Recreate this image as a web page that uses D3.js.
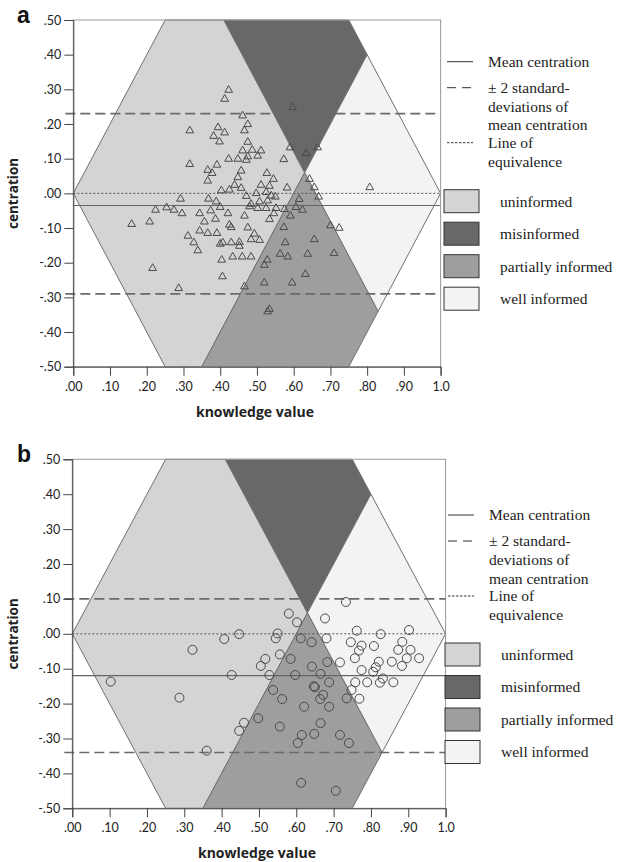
<!DOCTYPE html>
<html>
<head>
<meta charset="utf-8">
<script src="https://cdn.jsdelivr.net/npm/d3@7"></script>
<style>
  body { margin: 0; background: #fff; }
  svg { display: block; }
</style>
</head>
<body>
<div id="chart"></div>
<script>
// Panel a: one triangle per student, [knowledge value, centration]
const pointsA = [
  [0.423,0.298],[0.412,0.272],[0.597,0.248],[0.461,0.224],[0.317,0.181],[0.394,0.190],
  [0.475,0.199],[0.466,0.181],[0.412,0.175],[0.382,0.165],[0.398,0.149],[0.475,0.148],
  [0.461,0.123],[0.487,0.125],[0.511,0.123],[0.502,0.108],[0.590,0.132],[0.634,0.115],
  [0.665,0.132],[0.423,0.099],[0.448,0.099],[0.471,0.096],[0.475,0.106],[0.573,0.098],
  [0.317,0.084],[0.391,0.082],[0.366,0.067],[0.378,0.058],[0.457,0.065],[0.527,0.058],
  [0.448,0.046],[0.545,0.041],[0.366,0.036],[0.439,0.024],[0.511,0.024],[0.534,0.021],
  [0.643,0.041],[0.656,0.017],[0.403,0.008],[0.425,0.010],[0.457,0.015],[0.582,0.016],
  [0.668,-0.010],[0.292,-0.016],[0.368,-0.016],[0.389,-0.024],[0.471,-0.008],[0.498,0.000],
  [0.525,0.003],[0.539,-0.007],[0.550,-0.010],[0.484,-0.031],[0.507,-0.024],[0.529,-0.021],
  [0.615,-0.017],[0.224,-0.048],[0.254,-0.041],[0.274,-0.048],[0.296,-0.058],[0.344,-0.058],
  [0.374,-0.050],[0.400,-0.040],[0.421,-0.058],[0.480,-0.038],[0.502,-0.043],[0.525,-0.043],
  [0.552,-0.043],[0.575,-0.046],[0.606,-0.040],[0.624,-0.048],[0.159,-0.089],[0.208,-0.082],
  [0.357,-0.082],[0.387,-0.074],[0.466,-0.065],[0.534,-0.075],[0.546,-0.058],[0.591,-0.065],
  [0.425,-0.091],[0.430,-0.098],[0.344,-0.108],[0.366,-0.115],[0.391,-0.115],[0.475,-0.099],
  [0.493,-0.117],[0.573,-0.098],[0.312,-0.123],[0.328,-0.142],[0.400,-0.146],[0.407,-0.142],
  [0.430,-0.142],[0.452,-0.141],[0.452,-0.152],[0.484,-0.133],[0.507,-0.135],[0.577,-0.142],
  [0.656,-0.133],[0.339,-0.165],[0.404,-0.192],[0.434,-0.183],[0.460,-0.183],[0.484,-0.183],
  [0.528,-0.192],[0.520,-0.207],[0.563,-0.175],[0.584,-0.183],[0.638,-0.175],[0.216,-0.216],
  [0.632,-0.233],[0.406,-0.240],[0.287,-0.274],[0.466,-0.269],[0.520,-0.258],[0.596,-0.258],
  [0.534,-0.334],[0.529,-0.341],[0.807,0.017],[0.700,-0.093],[0.724,-0.100],[0.710,-0.173]
];

// Panel b: one circle per student
const pointsB = [
  [0.733,0.091],[0.580,0.058],[0.602,0.033],[0.677,0.044],[0.447,-0.001],[0.550,0.001],
  [0.545,-0.013],[0.612,-0.013],[0.641,-0.024],[0.681,-0.013],[0.762,0.009],[0.826,-0.001],
  [0.902,0.011],[0.746,-0.024],[0.775,-0.034],[0.768,-0.048],[0.808,-0.035],[0.884,-0.023],
  [0.873,-0.046],[0.906,-0.046],[0.896,-0.070],[0.929,-0.070],[0.517,-0.072],[0.505,-0.092],
  [0.556,-0.059],[0.585,-0.072],[0.642,-0.094],[0.683,-0.081],[0.717,-0.082],[0.757,-0.070],
  [0.821,-0.080],[0.856,-0.080],[0.813,-0.096],[0.775,-0.104],[0.806,-0.109],[0.883,-0.092],
  [0.427,-0.118],[0.528,-0.118],[0.597,-0.118],[0.665,-0.115],[0.832,-0.128],[0.688,-0.139],
  [0.647,-0.150],[0.650,-0.153],[0.758,-0.139],[0.790,-0.139],[0.824,-0.140],[0.860,-0.139],
  [0.538,-0.161],[0.562,-0.187],[0.672,-0.175],[0.664,-0.187],[0.735,-0.185],[0.748,-0.161],
  [0.769,-0.186],[0.621,-0.209],[0.688,-0.209],[0.498,-0.242],[0.460,-0.255],[0.447,-0.278],
  [0.556,-0.266],[0.665,-0.256],[0.615,-0.290],[0.648,-0.287],[0.717,-0.290],[0.604,-0.313],
  [0.741,-0.313],[0.613,-0.427],[0.706,-0.450],[0.103,-0.137],[0.322,-0.046],[0.287,-0.183],
  [0.360,-0.335],[0.407,-0.015]
];

const meanA = -0.035, sdLinesA = [0.23, -0.29];
const meanB = -0.12,  sdLinesB = [0.10, -0.34];

const xTicks = [0, 0.1, 0.2, 0.3, 0.4, 0.5, 0.6, 0.7, 0.8, 0.9, 1.0];
const xTickLabels = [".00", ".10", ".20", ".30", ".40", ".50", ".60", ".70", ".80", ".90", "1.0"];
const yTicks = [0.5, 0.4, 0.3, 0.2, 0.1, 0, -0.1, -0.2, -0.3, -0.4, -0.5];
const yTickLabels = [".50", ".40", ".30", ".20", ".10", ".00", "-.10", "-.20", "-.30", "-.40", "-.50"];

// region corners in data units (knowledge value, centration)
const regionNames = ["uninformed", "misinformed", "partially informed", "well informed"];
const regionFills = ["#d4d4d4", "#686868", "#9e9e9e", "#f3f3f3"];
const regionShapes = [
  [[0, 0], [0.25, 0.5], [0.41, 0.5], [0.63, 0.06], [0.35, -0.5], [0.25, -0.5]],
  [[0.41, 0.5], [0.75, 0.5], [0.8, 0.4], [0.63, 0.06]],
  [[0.63, 0.06], [0.83, -0.34], [0.75, -0.5], [0.35, -0.5]],
  [[0.63, 0.06], [0.8, 0.4], [1, 0], [0.83, -0.34]]
];

const width = 620, height = 862;
const svg = d3.select("#chart").append("svg")
  .attr("width", width)
  .attr("height", height);

const tickFont = "Lato, 'Open Sans', sans-serif";
const titleFont = "'Open Sans', Lato, sans-serif";
const legendFont = "'Liberation Serif', 'DejaVu Serif', serif";

function drawPanel(cfg) {
  const x = d3.scaleLinear().domain([0, 1]).range([cfg.left, cfg.right]);
  const y = d3.scaleLinear().domain([-0.5, 0.5]).range([cfg.bottom, cfg.top]);
  const g = svg.append("g");

  // regions
  const line = d3.line().x(d => x(d[0])).y(d => y(d[1]));
  g.append("g").selectAll("path")
    .data(regionShapes)
    .enter().append("path")
    .attr("d", d => line(d) + "Z")
    .attr("fill", (d, i) => regionFills[i])
    .attr("stroke", "#707070")
    .attr("stroke-width", 1);

  // plot frame
  g.append("rect")
    .attr("x", cfg.left).attr("y", cfg.top)
    .attr("width", cfg.right - cfg.left).attr("height", cfg.bottom - cfg.top)
    .attr("fill", "none").attr("stroke", "#9a9a9a");

  // line of equivalence, mean, +-2 sd
  g.append("line")
    .attr("x1", x(0)).attr("x2", x(1)).attr("y1", y(0)).attr("y2", y(0))
    .attr("stroke", "#555").attr("stroke-width", 1).attr("stroke-dasharray", "2,2");
  g.append("line")
    .attr("x1", x(0)).attr("x2", x(1)).attr("y1", y(cfg.mean)).attr("y2", y(cfg.mean))
    .attr("stroke", "#666").attr("stroke-width", 1.2);
  g.append("g").selectAll("line")
    .data(cfg.sd)
    .enter().append("line")
    .attr("x1", x(0) - 8).attr("x2", x(1))
    .attr("y1", d => y(d)).attr("y2", d => y(d))
    .attr("stroke", "#6a6a6a").attr("stroke-width", 1.6)
    .attr("stroke-dasharray", "10,5");

  // markers
  if (cfg.marker === "triangle") {
    g.append("g").selectAll("path")
      .data(cfg.points)
      .enter().append("path")
      .attr("d", d3.symbol().type(d3.symbolTriangle).size(26))
      .attr("transform", d => `translate(${x(d[0])},${y(d[1])})`)
      .attr("fill", "none")
      .attr("stroke", "#4a4a4a")
      .attr("stroke-width", 1);
  } else {
    g.append("g").selectAll("circle")
      .data(cfg.points)
      .enter().append("circle")
      .attr("cx", d => x(d[0]))
      .attr("cy", d => y(d[1]))
      .attr("r", 4.5)
      .attr("fill", "none")
      .attr("stroke", "#4a4a4a")
      .attr("stroke-width", 1);
  }

  // axes
  const yAxis = g.append("g")
    .attr("transform", `translate(${cfg.left},0)`)
    .call(d3.axisLeft(y).tickValues(yTicks).tickSize(9).tickPadding(3)
      .tickFormat((d, i) => yTickLabels[i]));
  const xAxis = g.append("g")
    .attr("transform", `translate(0,${cfg.bottom})`)
    .call(d3.axisBottom(x).tickValues(xTicks).tickSize(9).tickPadding(6)
      .tickFormat((d, i) => xTickLabels[i]));
  [yAxis, xAxis].forEach(a => {
    a.select(".domain").attr("stroke", "#444");
    a.selectAll(".tick line").attr("stroke", "#444");
    a.selectAll("text").attr("fill", "#222")
      .style("font-family", tickFont).style("font-size", "12.5px");
  });

  // titles
  g.append("text")
    .attr("transform", `translate(18,${(cfg.top + cfg.bottom) / 2}) rotate(-90)`)
    .attr("text-anchor", "middle")
    .style("font-family", titleFont).style("font-weight", "bold").style("font-size", "13.5px")
    .attr("fill", "#222")
    .text("centration");
  g.append("text")
    .attr("x", (cfg.left + cfg.right) / 2 - 2)
    .attr("y", cfg.bottom + 50)
    .attr("text-anchor", "middle")
    .style("font-family", titleFont).style("font-weight", "bold").style("font-size", "14px")
    .attr("fill", "#222")
    .text("knowledge value");
  g.append("text")
    .attr("x", 17).attr("y", cfg.top + 3)
    .style("font-family", "'Liberation Sans', Arial, sans-serif")
    .style("font-weight", "bold").style("font-size", "23px")
    .attr("fill", "#111")
    .text(cfg.label);

  // legend
  const lg = g.append("g").attr("transform", `translate(${cfg.legendX},${cfg.legendY})`);
  const lineItems = [
    { dash: null, y: 0, text: ["Mean centration"] },
    { dash: "9,6", y: 26, text: ["\u00B1 2 standard-", "deviations of", "mean centration"] },
    { dash: "2.5,1.5", y: 81, text: ["Line of", "equivalence"] }
  ];
  lineItems.forEach(it => {
    lg.append("line")
      .attr("x1", 7).attr("x2", 33).attr("y1", it.y).attr("y2", it.y)
      .attr("stroke", "#333").attr("stroke-width", 1)
      .attr("stroke-dasharray", it.dash);
    it.text.forEach((t, k) => {
      lg.append("text")
        .attr("x", 48).attr("y", it.y + k * 18.6)
        .attr("dy", "0.35em")
        .style("font-family", legendFont).style("font-size", "15.5px")
        .attr("fill", "#222")
        .text(t);
    });
  });
  regionNames.forEach((name, i) => {
    const by = 128 + i * 32.5;
    lg.append("rect")
      .attr("x", 4).attr("y", by)
      .attr("width", 35).attr("height", 23)
      .attr("fill", regionFills[i])
      .attr("stroke", "#333").attr("stroke-width", 1);
    lg.append("text")
      .attr("x", 60).attr("y", by + 11.5)
      .attr("dy", "0.35em")
      .style("font-family", legendFont).style("font-size", "15.5px")
      .attr("fill", "#222")
      .text(name);
  });
}

drawPanel({
  label: "a", left: 73.3, right: 440.6, top: 20, bottom: 366.7,
  points: pointsA, marker: "triangle", mean: meanA, sd: sdLinesA,
  legendX: 440, legendY: 61.7
});
drawPanel({
  label: "b", left: 72.3, right: 445.6, top: 459.3, bottom: 808.3,
  points: pointsB, marker: "circle", mean: meanB, sd: sdLinesB,
  legendX: 441, legendY: 515
});
</script>
</body>
</html>
